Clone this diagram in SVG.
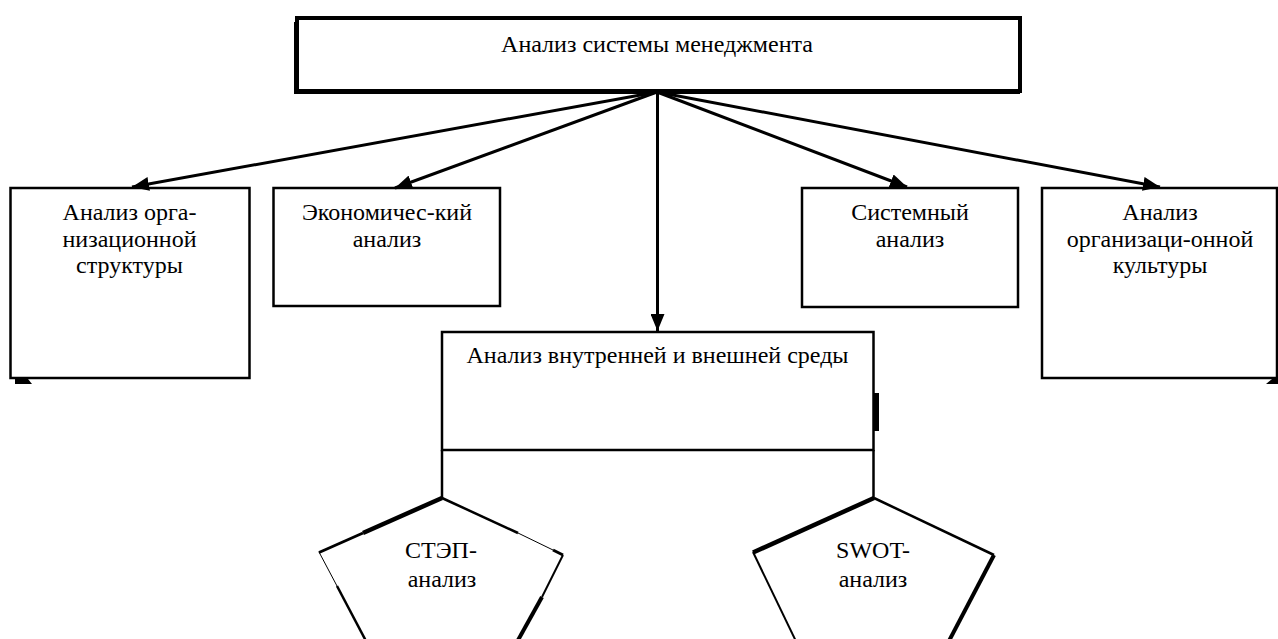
<svg xmlns="http://www.w3.org/2000/svg" width="1278" height="639" viewBox="0 0 1278 639">
<defs>
<style>
.box{fill:none;stroke:#000;stroke-width:2.5}
.top{fill:none;stroke:#000;stroke-width:4}
.t{font-size:24px;fill:#000;text-anchor:middle}
.c{stroke:#000;stroke-width:3;fill:none;marker-end:url(#ah)}
.e{stroke:#000;fill:none;stroke-linecap:butt}
</style>
<marker id="ah" markerUnits="userSpaceOnUse" markerWidth="18" markerHeight="14" refX="17" refY="7" orient="auto">
<path d="M0,0 L17,7 L0,14 Z" fill="#000"/>
</marker>
</defs>
<rect width="1278" height="639" fill="#fff"/>

<g id="connectors">
<line class="c" x1="657" y1="92" x2="132" y2="187"/>
<line class="c" x1="657" y1="92" x2="395" y2="188"/>
<line class="c" x1="657.5" y1="92" x2="657.5" y2="331"/>
<line class="c" x1="657" y1="92" x2="907" y2="187"/>
<line class="c" x1="657" y1="92" x2="1160" y2="187"/>
<line class="e" stroke-width="2.5" x1="442" y1="450" x2="442" y2="498"/>
<line class="e" stroke-width="2.5" x1="873.5" y1="450" x2="873.5" y2="498"/>
</g>

<g font-family="Liberation Serif, Tinos, Times New Roman, serif">
<g id="node-top">
<rect class="top" x="297" y="18" width="723" height="73"/>
<path d="M295,22 V93 H1020" stroke="#000" stroke-width="2" fill="none"/>
<text class="t" x="657" y="52">Анализ системы менеджмента</text>
</g>

<g id="node-org-structure">
<rect class="box" x="10.5" y="188" width="239" height="190"/>
<polygon points="15,379 28,379 32,384 15,384" fill="#000"/>
<text class="t" x="129.5" y="220">Анализ орга-</text>
<text class="t" x="129.5" y="246.5">низационной</text>
<text class="t" x="129.5" y="273">структуры</text>
</g>

<g id="node-economic">
<rect class="box" x="273.5" y="188" width="226.5" height="118"/>
<text class="t" x="387" y="220">Экономичес-кий</text>
<text class="t" x="387" y="246.5">анализ</text>
</g>

<g id="node-system">
<rect class="box" x="802" y="188" width="216" height="119"/>
<text class="t" x="910" y="220">Системный</text>
<text class="t" x="910" y="246.5">анализ</text>
</g>

<g id="node-org-culture">
<rect class="box" x="1042" y="188" width="235" height="190"/>
<polygon points="1272,379 1278,379 1278,384 1266,384" fill="#000"/>
<text class="t" x="1160" y="220">Анализ</text>
<text class="t" x="1160" y="246.5">организаци-онной</text>
<text class="t" x="1160" y="273">культуры</text>
</g>

<g id="node-environment">
<rect class="box" x="442" y="332" width="431.5" height="118"/>
<rect x="874" y="393" width="5" height="38" fill="#000"/>
<text class="t" x="657.5" y="363">Анализ внутренней и внешней среды</text>
</g>

<g id="node-step">
<line class="e" stroke-width="4.5" x1="442" y1="498" x2="363" y2="533"/>
<line class="e" stroke-width="3" x1="363" y1="533" x2="319" y2="552.5"/>
<line class="e" stroke-width="1" x1="319" y1="552" x2="337" y2="586"/>
<line class="e" stroke-width="2.5" x1="337" y1="586" x2="376" y2="660"/>
<line class="e" stroke-width="2.5" x1="442" y1="498" x2="518" y2="533"/>
<line class="e" stroke-width="1" x1="518" y1="533" x2="553" y2="550"/>
<line class="e" stroke-width="3" x1="553" y1="550" x2="563" y2="555"/>
<line class="e" stroke-width="2" x1="563" y1="555" x2="542" y2="597"/>
<line class="e" stroke-width="4" x1="542" y1="597" x2="507" y2="660"/>
<text class="t" x="441" y="558">СТЭП-</text>
<text class="t" x="442" y="587">анализ</text>
</g>

<g id="node-swot">
<line class="e" stroke-width="4.5" x1="874" y1="498" x2="753" y2="552.5"/>
<line class="e" stroke-width="2" x1="753" y1="552" x2="805" y2="660"/>
<line class="e" stroke-width="2.5" x1="874" y1="498" x2="994" y2="555"/>
<line class="e" stroke-width="4" x1="994" y1="555" x2="939" y2="660"/>
<text class="t" x="873" y="558">SWOT-</text>
<text class="t" x="873" y="587">анализ</text>
</g>
</g>
</svg>
